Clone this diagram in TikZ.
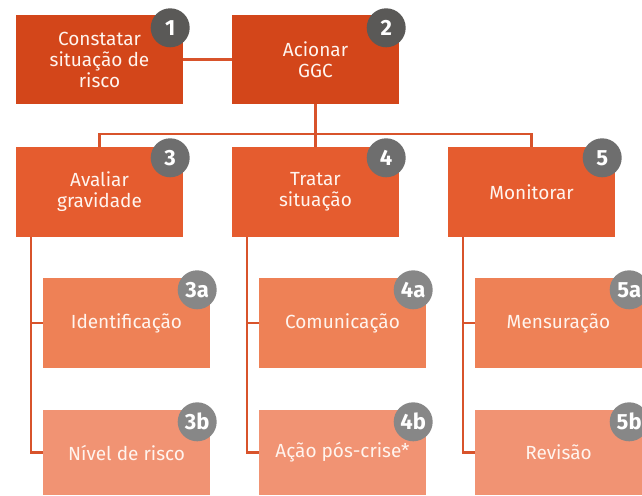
\documentclass[tikz,border=0pt]{standalone}
\usepackage{fontspec}
\setmainfont{Fira Sans}
\begin{document}
\begin{tikzpicture}[x=1pt,y=-1pt,
  box/.style={rectangle,minimum width=167pt,minimum height=90pt,inner sep=0pt,
    text=textc,font=\fontsize{19}{21}\selectfont,align=center},
  top/.style={box,fill=c1,minimum height=89pt},
  mid/.style={box,fill=c2},
  suba/.style={box,fill=c3},
  subb/.style={box,fill=c4,minimum height=85pt},
  num/.style={circle,minimum size=39pt,inner sep=0pt,text=white,font=\bfseries\fontsize{22}{22}\selectfont},
  link/.style={draw=lc,line width=2.5pt}]
\definecolor{c1}{HTML}{D3461A}
\definecolor{c2}{HTML}{E55C2F}
\definecolor{c3}{HTML}{EE8156}
\definecolor{c4}{HTML}{F19373}
\definecolor{g1}{HTML}{5A5957}
\definecolor{g2}{HTML}{6E6E6E}
\definecolor{g3}{HTML}{878787}
\definecolor{lc}{HTML}{D8532B}
\definecolor{textc}{HTML}{FFF4EE}
\useasboundingbox (0,0) rectangle (642,495);
\node[top] (b1) at (99.5,59.5) {Constatar\\situação de\\risco};
\node[top] (b2) at (315.5,59.5) {Acionar\\GGC};
\node[mid] (b3) at (99.5,192) {Avaliar\\gravidade};
\node[mid] (b4) at (315.5,192) {Tratar\\situação};
\node[mid] (b5) at (531.5,192) {Monitorar};
\node[suba] (b3a) at (126.5,323) {Identificação};
\node[subb] (b3b) at (126.5,452.5) {Nível de risco};
\node[suba] (b4a) at (342.5,323) {Comunicação};
\node[subb] (b4b) at (342.5,452.5) {Ação pós-crise*};
\node[suba] (b5a) at (558.5,323) {Mensuração};
\node[subb] (b5b) at (558.5,452.5) {Revisão};
\draw[link] (b1.east) -- (b2.west);
\draw[link] (b2.south) -- (b4.north);
\draw[link] (b3.north) -- ++(0,-13) -| (b5.north);
\foreach \p in {3,4,5}{
  \draw[link] ([xshift=15pt]b\p.south west) |- (b\p b.west);
  \draw[link] ([xshift=15pt]b\p.south west |- b\p a.west) -- (b\p a.west);
}
\node[num,fill=g1] (n1) at ([xshift=-13pt,yshift=-13pt]b1.north east) {1};
\node[num,fill=g1] (n2) at ([xshift=-13pt,yshift=-13pt]b2.north east) {2};
\node[num,fill=g2] (n3) at ([xshift=-13pt,yshift=-11pt]b3.north east) {3};
\node[num,fill=g2] (n4) at ([xshift=-13pt,yshift=-11pt]b4.north east) {4};
\node[num,fill=g2] (n5) at ([xshift=-13pt,yshift=-11pt]b5.north east) {5};
\node[num,fill=g3] (n3a) at ([xshift=-13pt,yshift=-12pt]b3a.north east) {3a};
\node[num,fill=g3] (n4a) at ([xshift=-13pt,yshift=-12pt]b4a.north east) {4a};
\node[num,fill=g3] (n5a) at ([xshift=-13pt,yshift=-12pt]b5a.north east) {5a};
\node[num,fill=g3] (n3b) at ([xshift=-13pt,yshift=-12pt]b3b.north east) {3b};
\node[num,fill=g3] (n4b) at ([xshift=-13pt,yshift=-12pt]b4b.north east) {4b};
\node[num,fill=g3] (n5b) at ([xshift=-13pt,yshift=-12pt]b5b.north east) {5b};
\end{tikzpicture}
\end{document}
